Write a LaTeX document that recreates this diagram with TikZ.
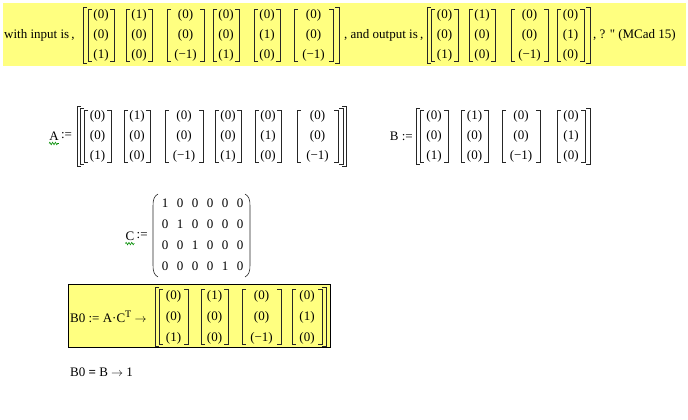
\documentclass[tikz,border=0pt]{standalone}
\usepackage{fontspec}
\setmainfont{Liberation Serif}
\newfontfamily\plainfont{Liberation Serif}
\usetikzlibrary{positioning,decorations.pathmorphing}
\definecolor{hilite}{RGB}{255,255,128}
\tikzset{
  mc/.style={font=\fontsize{13}{15}\selectfont, inner sep=0pt},
  ent/.style={mc, anchor=center},
  brk/.style={line width=0.6pt, black!85},
  squig/.style={green!55!black, line width=0.6pt, decorate,
    decoration={zigzag, segment length=2.8pt, amplitude=1.2pt}},
}
% one column vector: name, left, right, centre y, row gap, entries
\newcommand\colvec[8]{%
  \node[ent] (#1a) at ({(#2+#3)/2},#4-#5) {#6};
  \node[ent] (#1b) at ({(#2+#3)/2},#4) {#7};
  \node[ent] (#1c) at ({(#2+#3)/2},#4+#5) {#8};
  \draw[brk] (#2+4,#4-1.3*#5) -| (#2,#4+1.3*#5) -- ++(4,0);
  \draw[brk] (#3-4,#4-1.3*#5) -| (#3,#4+1.3*#5) -- ++(-4,0);
}
% outer bracket pair: left, right, centre y, half height
\newcommand\outbrk[4]{%
  \draw[brk] (#1+4,#3-#4) -| (#1,#3+#4) -- ++(4,0);
  \draw[brk] (#2-4,#3-#4) -| (#2,#3+#4) -- ++(-4,0);
}
\begin{document}
\begin{tikzpicture}[x=1pt,y=-1pt]
  \useasboundingbox (0,0) rectangle (688,420);
  \fill[hilite] (3,3) rectangle (686,66);

  % top line
  \node[mc, anchor=west] (inlbl) at (4,35) {with input is\,,};
  \outbrk{83}{339}{35}{28}
  \colvec{ia}{88}{114}{35}{20}{(0)}{(0)}{(1)}
  \colvec{ib}{126}{152}{35}{20}{(1)}{(0)}{(0)}
  \colvec{ic}{167}{204}{35}{20}{(0)}{(0)}{(−1)}
  \colvec{id}{213}{239}{35}{20}{(0)}{(0)}{(1)}
  \colvec{ie}{254}{280}{35}{20}{(0)}{(1)}{(0)}
  \colvec{if}{294}{333}{35}{20}{(0)}{(0)}{(−1)}
  \node[mc, anchor=west] (outlbl) at (344,35) {, and output is\,,};
  \outbrk{427}{590}{35}{28}
  \colvec{oa}{431}{458}{35}{20}{(0)}{(0)}{(1)}
  \colvec{ob}{469}{495}{35}{20}{(1)}{(0)}{(0)}
  \colvec{oc}{511}{548}{35}{20}{(0)}{(0)}{(−1)}
  \colvec{od}{557}{584}{35}{20}{(0)}{(1)}{(0)}
  \node[mc, anchor=west] (tail) at (593,35) {, ? {\plainfont"} (MCad 15)};

  % A
  \node[mc] (Aname) at (54,136) {A};
  \node[mc, right=2pt of Aname] (Adef) {:=};
  \draw[squig] ([yshift=-3pt]Aname.south west) -- ([yshift=-3pt]Aname.south east);
  \outbrk{77}{346}{136}{30}
  \outbrk{80}{343}{136}{28}
  \colvec{aa}{84}{111}{136}{20}{(0)}{(0)}{(1)}
  \colvec{ab}{124}{150}{136}{20}{(1)}{(0)}{(0)}
  \colvec{ac}{165}{203}{136}{20}{(0)}{(0)}{(−1)}
  \colvec{ad}{215}{241}{136}{20}{(0)}{(0)}{(1)}
  \colvec{ae}{255}{281}{136}{20}{(0)}{(1)}{(0)}
  \colvec{af}{297}{338}{136}{20}{(0)}{(0)}{(−1)}

  % B
  \node[mc, anchor=east] (Bdef) at (413,136) {B :=};
  \outbrk{416}{590}{136}{28}
  \colvec{ba}{420}{448}{136}{20}{(0)}{(0)}{(1)}
  \colvec{bb}{461}{488}{136}{20}{(1)}{(0)}{(0)}
  \colvec{bc}{502}{540}{136}{20}{(0)}{(0)}{(−1)}
  \colvec{bd}{557}{585}{136}{20}{(0)}{(1)}{(0)}

  % C
  \node[mc] (Cname) at (130,236) {C};
  \node[mc, right=2pt of Cname] (Cdef) {:=};
  \draw[squig] ([yshift=-3pt]Cname.south west) -- ([yshift=-3pt]Cname.south east);
  \foreach \rowvals [count=\r] in {{1,0,0,0,0,0},{0,1,0,0,0,0},{0,0,1,0,0,0},{0,0,0,0,1,0}}
    \foreach \v [count=\c] in \rowvals
      \node[ent] (c\r\c) at (150+15*\c,182+21*\r) {\v};
  \draw[brk] (158,194) .. controls (154,196) and (153,200) .. (153,206) -- (153,265)
    .. controls (153,271) and (154,275) .. (158,277);
  \draw[brk] (245,194) .. controls (249,196) and (250,200) .. (250,206) -- (250,265)
    .. controls (250,271) and (249,275) .. (245,277);

  % B0 box
  \draw[fill=hilite, line width=1pt] (68,284) rectangle (330,347);
  \node[mc, anchor=west] (Bzero) at (70,317)
    {B0 := A·C\raisebox{5pt}{\fontsize{10}{10}\selectfont T} $\rightarrow$};
  \outbrk{155}{326}{317}{29.5}
  \colvec{za}{159}{188}{317}{21}{(0)}{(0)}{(1)}
  \colvec{zb}{201}{228}{317}{21}{(1)}{(0)}{(0)}
  \colvec{zc}{242}{281}{317}{21}{(0)}{(0)}{(−1)}
  \colvec{zd}{292}{322}{317}{21}{(0)}{(1)}{(0)}

  \node[mc, anchor=west] (check) at (70,372) {B0 {\bfseries =} B $\rightarrow$ 1};
\end{tikzpicture}
\end{document}
